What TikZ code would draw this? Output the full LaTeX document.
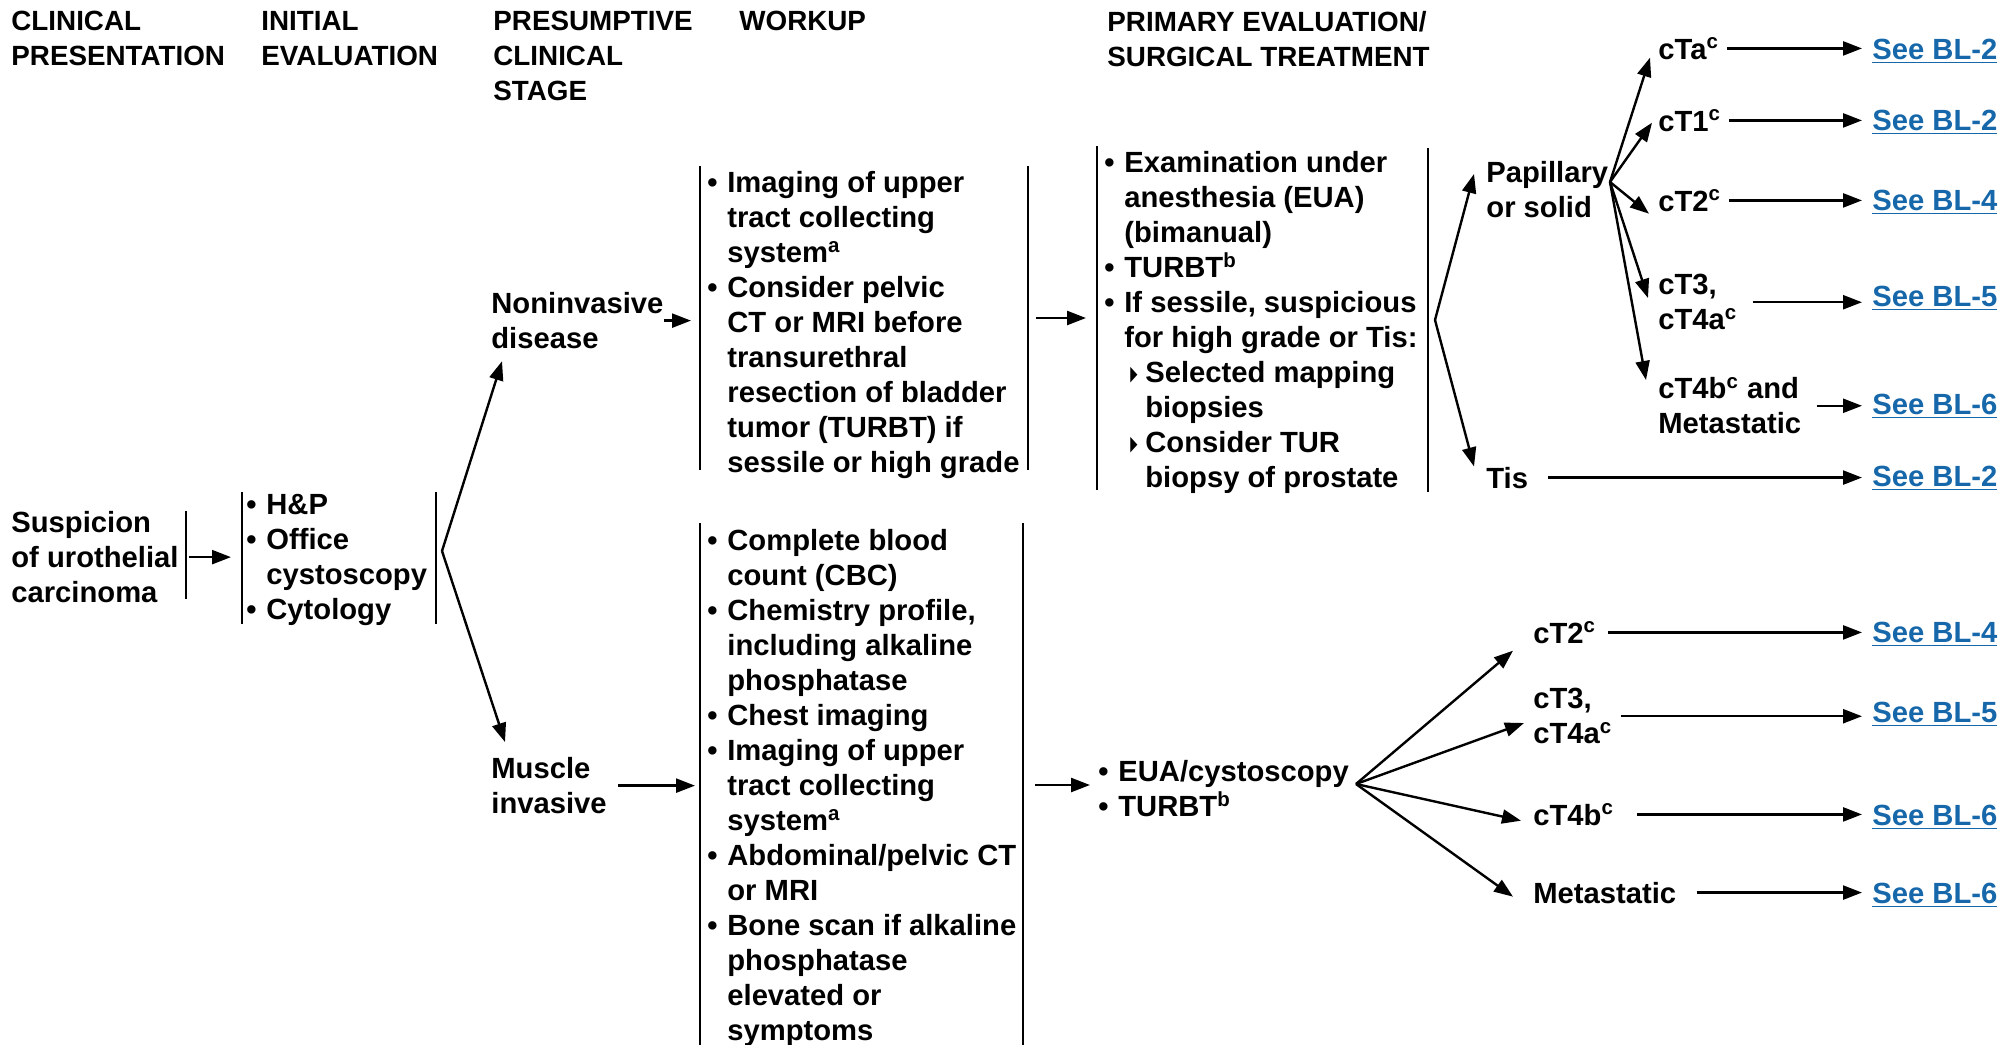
\documentclass[tikz,border=0pt]{standalone}
\usepackage{fontspec}
\setmainfont{Liberation Sans}
\newfontfamily\trifont{DejaVu Sans}
\usetikzlibrary{arrows.meta,calc}
\definecolor{linkblue}{RGB}{22,104,170}

\newcommand{\bitem}{\makebox[10pt][l]{\textbullet}}
\newcommand{\bcont}{\hspace*{10pt}}
\newcommand{\bsub}{\hspace*{13pt}\makebox[7.5pt][l]{\raisebox{1pt}{\resizebox{3.6pt}{6.6pt}{\trifont\mdseries ▶}}}}
\newcommand{\bsubcont}{\hspace*{20.5pt}}

\begin{document}
\begin{tikzpicture}[x=0.5pt, y=-0.5pt,
    font=\fontsize{14.6}{17.5}\selectfont\bfseries,
    lbl/.style={inner sep=0pt, align=left, anchor=north west},
    head/.style={lbl, font=\fontsize{13.9}{17.5}\selectfont\bfseries},
    stage/.style={inner sep=0pt, anchor=base west},
    link/.style={inner sep=0pt, anchor=base west, text=linkblue},
    arr/.style={-{Triangle[length=9.5pt,width=7pt]}, line width=1.2pt},
    brk/.style={line width=1.1pt}]
  \useasboundingbox (0,0) rectangle (1999,1045);

  % column headings
  \node[head] (hPres) at (11,11) {CLINICAL\\PRESENTATION};
  \node[head] (hInit) at (261,11) {INITIAL\\EVALUATION};
  \node[head] (hStage) at (493,11) {PRESUMPTIVE\\CLINICAL\\STAGE};
  \node[head] (hWork) at (739,11) {WORKUP};
  \node[head] (hPrim) at (1107,11) {PRIMARY EVALUATION/\\SURGICAL TREATMENT};

  % presentation, initial evaluation, stage
  \node[lbl] (susp) at (11,511) {Suspicion\\of urothelial\\carcinoma};
  \node[lbl] (init) at (246,494) {\bitem H\&P\\\bitem Office\\\bcont cystoscopy\\\bitem Cytology};
  \node[lbl] (noninv) at (491,292) {Noninvasive\\disease};
  \node[lbl] (muscle) at (491,757) {Muscle\\invasive};

  % workup
  \node[lbl] (work1) at (707,171) {\bitem Imaging of upper\\
    \bcont tract collecting\\
    \bcont system\textsuperscript{a}\\
    \bitem Consider pelvic\\
    \bcont CT or MRI before\\
    \bcont transurethral\\
    \bcont resection of bladder\\
    \bcont tumor (TURBT) if\\
    \bcont sessile or high grade};
  \node[lbl] (work2) at (707,529) {\bitem Complete blood\\
    \bcont count (CBC)\\
    \bitem Chemistry profile,\\
    \bcont including alkaline\\
    \bcont phosphatase\\
    \bitem Chest imaging\\
    \bitem Imaging of upper\\
    \bcont tract collecting\\
    \bcont system\textsuperscript{a}\\
    \bitem Abdominal/pelvic CT\\
    \bcont or MRI\\
    \bitem Bone scan if alkaline\\
    \bcont phosphatase\\
    \bcont elevated or\\
    \bcont symptoms};

  % primary evaluation
  \node[lbl] (prim) at (1104,151) {\bitem Examination under\\
    \bcont anesthesia (EUA)\\
    \bcont (bimanual)\\
    \bitem TURBT\textsuperscript{b}\\
    \bitem If sessile, suspicious\\
    \bcont for high grade or Tis:\\
    \bsub Selected mapping\\
    \bsubcont biopsies\\
    \bsub Consider TUR\\
    \bsubcont biopsy of prostate};
  \node[lbl] (eua) at (1098,760) {\bitem EUA/cystoscopy\\\bitem TURBT\textsuperscript{b}};

  % findings
  \node[lbl] (pap) at (1486,161) {Papillary\\or solid};
  \node[stage] (tis) at (1486,488) {Tis};
  \node[stage] (cTa) at (1658,59) {cTa\textsuperscript{c}};
  \node[stage] (cT1) at (1658,131) {cT1\textsuperscript{c}};
  \node[stage] (cT2u) at (1658,211) {cT2\textsuperscript{c}};
  \node[lbl] (cT3u) at (1658,274) {cT3,\\cT4a\textsuperscript{c}};
  \node[lbl] (cT4u) at (1658,377) {cT4b\textsuperscript{c} and\\Metastatic};
  \node[stage] (cT2l) at (1533,643) {cT2\textsuperscript{c}};
  \node[lbl] (cT3l) at (1533,688) {cT3,\\cT4a\textsuperscript{c}};
  \node[stage] (cT4l) at (1533,825) {cT4b\textsuperscript{c}};
  \node[stage] (metl) at (1533,903) {Metastatic};

  % see pages
  \node[link] (seeA) at (1872,59) {\underline{See BL-2}};
  \node[link] (seeB) at (1872,130) {\underline{See BL-2}};
  \node[link] (seeC) at (1872,210) {\underline{See BL-4}};
  \node[link] (seeD) at (1872,306) {\underline{See BL-5}};
  \node[link] (seeE) at (1872,414) {\underline{See BL-6}};
  \node[link] (seeF) at (1872,486) {\underline{See BL-2}};
  \node[link] (seeG) at (1872,642) {\underline{See BL-4}};
  \node[link] (seeH) at (1872,722) {\underline{See BL-5}};
  \node[link] (seeI) at (1872,825) {\underline{See BL-6}};
  \node[link] (seeJ) at (1872,903) {\underline{See BL-6}};

  % brackets
  \draw[brk] (186,511) -- (186,599);
  \draw[brk] (242,492) -- (242,624);
  \draw[brk] (436,492) -- (436,624);
  \draw[brk] (700,166) -- (700,470);
  \draw[brk] (1028,166) -- (1028,470);
  \draw[brk] (700,523) -- (700,1045);
  \draw[brk] (1023,523) -- (1023,1045);
  \draw[brk] (1097,146) -- (1097,490);
  \draw[brk] (1428,148) -- (1428,492);

  % branch points
  \coordinate (fanA) at (442,551);
  \coordinate (fanB) at (1435,320);
  \coordinate (fanC) at (1610,182);
  \coordinate (fanD) at (1356,784);
  \coordinate (w1r) at (1028,318);
  \coordinate (w2r) at (1023,785);

  % straight arrows
  \draw[arr, shorten <=5.3pt, shorten >=7.5pt] (susp.east) -- (susp.east -| init.west);
  \draw[arr, shorten >=8pt] (noninv.east) -- (noninv.east -| work1.west);
  \draw[arr, shorten <=4pt, shorten >=9pt] (w1r) -- (w1r -| prim.west);
  \draw[arr, shorten <=5.5pt, shorten >=6pt] (muscle.east) -- (muscle.east -| work2.west);
  \draw[arr, shorten <=6pt, shorten >=4pt] (w2r) -- (w2r -| eua.west);

  % fans
  \draw[arr] (fanA) -- ($(noninv.south west)+(11,12)$);
  \draw[arr] (fanA) -- ($(muscle.north west)+(14,-15)$);
  \draw[arr] (fanB) -- ($(pap.north west)+(-12,13)$);
  \draw[arr] (fanB) -- ($(tis.north west)+(-12,0)$);
  \draw[arr] (fanC) -- ($(cTa.south west)+(-8,-2)$);
  \draw[arr] (fanC) -- ($(cT1.south west)+(-6,-9)$);
  \draw[arr] (fanC) -- ($(cT2u.south west)+(-9,2)$);
  \draw[arr] (fanC) -- ($(cT3u.north west)+(-10,24)$);
  \draw[arr] (fanC) -- ($(cT4u.north west)+(-12,3)$);
  \draw[arr] (fanD) -- ($(cT2l.south west)+(-20,7)$);
  \draw[arr] (fanD) -- ($(cT3l.north west)+(-9,35)$);
  \draw[arr] (fanD) -- ($(cT4l.south west)+(-12,-5)$);
  \draw[arr] (fanD) -- ($(metl.south west)+(-20,-7)$);

  % to the next pages
  \draw[arr, shorten <=4pt, shorten >=5pt] (cTa.east) -- (cTa.east -| seeA.west);
  \draw[arr, shorten <=4pt, shorten >=5pt] (cT1.east) -- (cT1.east -| seeB.west);
  \draw[arr, shorten <=4pt, shorten >=5pt] (cT2u.east) -- (cT2u.east -| seeC.west);
  \draw[arr, shorten <=7.5pt, shorten >=5pt] (cT3u.east) -- (cT3u.east -| seeD.west);
  \draw[arr, shorten <=7.5pt, shorten >=5pt] (cT4u.east) -- (cT4u.east -| seeE.west);
  \draw[arr, shorten <=10pt, shorten >=5pt] (tis.east) -- (tis.east -| seeF.west);
  \draw[arr, shorten <=6pt, shorten >=5pt] (cT2l.east) -- (cT2l.east -| seeG.west);
  \draw[arr, shorten <=4pt, shorten >=5pt] (cT3l.east) -- (cT3l.east -| seeH.west);
  \draw[arr, shorten <=11.5pt, shorten >=5pt] (cT4l.east) -- (cT4l.east -| seeI.west);
  \draw[arr, shorten <=10pt, shorten >=5pt] (metl.east) -- (metl.east -| seeJ.west);
\end{tikzpicture}
\end{document}
